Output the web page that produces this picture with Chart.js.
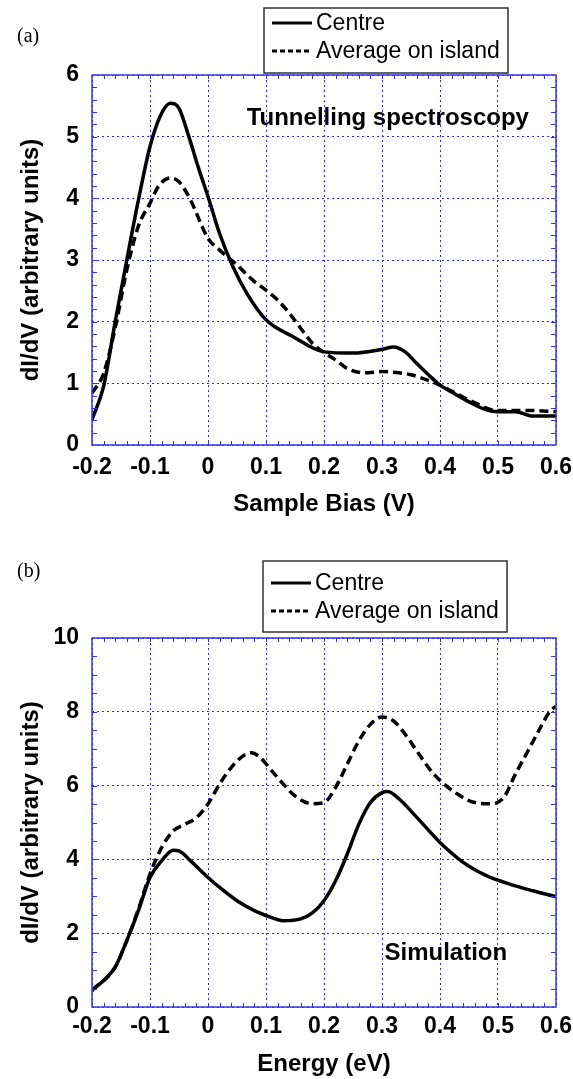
<!DOCTYPE html>
<html>
<head>
<meta charset="utf-8">
<script src="https://cdn.jsdelivr.net/npm/chart.js@4.4.1/dist/chart.umd.min.js"></script>
<style>
  body { margin: 0; background: #fff; }
  canvas { display: block; }
</style>
</head>
<body>
<canvas id="chartA" width="573" height="540"></canvas>
<canvas id="chartB" width="573" height="539"></canvas>
<script>
// (a) measured spectra
const aCentreBias = [-0.2, -0.18, -0.16, -0.14, -0.12, -0.1, -0.083, -0.065, -0.05, -0.033, -0.017, 0, 0.02, 0.043, 0.067, 0.1, 0.146, 0.2, 0.25, 0.3, 0.32, 0.34, 0.36, 0.38, 0.4, 0.42, 0.45, 0.48, 0.5, 0.53, 0.56, 0.6];
const aCentreVal  = [0.41, 0.95, 2.0, 3.0, 3.97, 4.84, 5.32, 5.54, 5.46, 5.0, 4.51, 4.03, 3.43, 2.89, 2.46, 2.03, 1.76, 1.51, 1.49, 1.55, 1.59, 1.51, 1.32, 1.14, 0.97, 0.86, 0.70, 0.57, 0.54, 0.54, 0.47, 0.47];
const aAverageBias = [-0.2, -0.18, -0.16, -0.14, -0.12, -0.1, -0.085, -0.065, -0.05, -0.03, -0.01, 0, 0.02, 0.05, 0.08, 0.1, 0.12, 0.14, 0.16, 0.18, 0.2, 0.22, 0.24, 0.27, 0.3, 0.33, 0.35, 0.37, 0.4, 0.45, 0.5, 0.55, 0.6];
const aAverageVal  = [0.84, 1.16, 1.9, 2.84, 3.55, 3.92, 4.2, 4.33, 4.27, 3.97, 3.54, 3.35, 3.16, 2.92, 2.65, 2.51, 2.35, 2.14, 1.89, 1.65, 1.5, 1.38, 1.24, 1.17, 1.19, 1.17, 1.14, 1.08, 0.97, 0.73, 0.56, 0.56, 0.54];

// (b) simulated spectra
const bCentreEnergy = [-0.2, -0.18, -0.16, -0.14, -0.12, -0.1, -0.08, -0.06, -0.05, -0.03, 0, 0.02, 0.05, 0.08, 0.1, 0.13, 0.16, 0.18, 0.2, 0.22, 0.24, 0.26, 0.28, 0.3, 0.31, 0.33, 0.36, 0.4, 0.44, 0.48, 0.52, 0.56, 0.6];
const bCentreVal    = [0.45, 0.72, 1.08, 1.80, 2.61, 3.51, 3.96, 4.25, 4.23, 3.96, 3.51, 3.24, 2.88, 2.61, 2.48, 2.34, 2.39, 2.55, 2.88, 3.42, 4.14, 4.95, 5.54, 5.81, 5.84, 5.63, 5.14, 4.46, 3.92, 3.56, 3.33, 3.15, 2.99];
const bAverageEnergy = [-0.2, -0.16, -0.14, -0.12, -0.1, -0.08, -0.06, -0.04, -0.02, 0, 0.02, 0.04, 0.06, 0.075, 0.09, 0.11, 0.13, 0.15, 0.18, 0.2, 0.22, 0.24, 0.26, 0.28, 0.3, 0.32, 0.34, 0.36, 0.38, 0.4, 0.43, 0.46, 0.49, 0.51, 0.53, 0.55, 0.57, 0.59, 0.6];
const bAverageVal    = [0.45, 1.08, 1.8, 2.65, 3.6, 4.32, 4.77, 4.95, 5.13, 5.5, 6.04, 6.49, 6.8, 6.89, 6.76, 6.40, 6.04, 5.72, 5.51, 5.54, 5.95, 6.58, 7.21, 7.66, 7.86, 7.75, 7.39, 6.94, 6.49, 6.14, 5.77, 5.54, 5.51, 5.68, 6.31, 6.89, 7.48, 8.02, 8.15];

const seriesNames = ["Centre", "Average on island"];
const xTickLabels = ["-0.2", "-0.1", "0", "0.1", "0.2", "0.3", "0.4", "0.5", "0.6"];

const sans = "'Liberation Sans', Arial, sans-serif";
const blue = "#3434e6";
const gridBlue = "#2b2bff";

const toPoints = (xs, ys) => xs.map((v, i) => ({x: v, y: ys[i]}));

// frame, inner minor ticks, caption, legend box and panel letter
const decoPlugin = {
  id: 'deco',
  afterDraw(chart, args, o) {
    const {ctx, chartArea: a, scales: {x, y}} = chart;
    ctx.save();
    ctx.strokeStyle = blue;
    ctx.lineWidth = 1;
    ctx.beginPath();
    const nx = Math.round((x.max - x.min) / o.minorX);
    for (let i = 1; i < nx; i++) {
      const px = Math.round(x.getPixelForValue(x.min + i * o.minorX)) + 0.5;
      ctx.moveTo(px, a.top); ctx.lineTo(px, a.top + 4);
      ctx.moveTo(px, a.bottom); ctx.lineTo(px, a.bottom - 4);
    }
    const ny = Math.round((y.max - y.min) / o.minorY);
    for (let i = 1; i < ny; i++) {
      const py = Math.round(y.getPixelForValue(y.min + i * o.minorY)) + 0.5;
      ctx.moveTo(a.left, py); ctx.lineTo(a.left + 5, py);
      ctx.moveTo(a.right, py); ctx.lineTo(a.right - 5, py);
    }
    ctx.stroke();
    ctx.lineWidth = 1.5;
    ctx.strokeRect(a.left, a.top, a.right - a.left, a.bottom - a.top);

    // caption inside plot
    ctx.fillStyle = '#000';
    ctx.font = "bold 24px " + sans;
    ctx.textAlign = 'center';
    ctx.textBaseline = 'middle';
    ctx.fillText(o.caption, x.getPixelForValue(o.captionAt[0]), y.getPixelForValue(o.captionAt[1]));

    // panel letter
    ctx.font = "20px 'Liberation Serif', 'Times New Roman', serif";
    ctx.textAlign = 'left';
    ctx.fillText(o.panel, 17, o.panelY);

    // legend
    const L = o.legend;
    ctx.strokeStyle = '#333';
    ctx.lineWidth = 1.5;
    ctx.strokeRect(L.x, L.y, L.w, L.h);
    ctx.font = "23px " + sans;
    chart.data.datasets.forEach((ds, i) => {
      const ly = L.y + L.rows[i];
      ctx.strokeStyle = '#000';
      ctx.lineWidth = 3;
      ctx.setLineDash(ds.borderDash && ds.borderDash.length ? [5, 3] : []);
      ctx.beginPath(); ctx.moveTo(L.x + 8, ly); ctx.lineTo(L.x + 48, ly); ctx.stroke();
      ctx.setLineDash([]);
      ctx.fillStyle = '#000';
      ctx.fillText(ds.label, L.x + 52, ly + 1);
    });
    ctx.restore();
  }
};

const makeChart = (id, cfg) => new Chart(document.getElementById(id), {
  type: 'line',
  data: {
    datasets: [
      {label: seriesNames[0], data: toPoints(cfg.cx, cfg.cy), borderColor: '#000', borderWidth: 3.5,
       pointRadius: 0, cubicInterpolationMode: 'monotone', fill: false},
      {label: seriesNames[1], data: toPoints(cfg.ax, cfg.ay), borderColor: '#000', borderWidth: 3.5,
       borderDash: [9, 5], pointRadius: 0, cubicInterpolationMode: 'monotone', fill: false}
    ]
  },
  options: {
    responsive: false,
    animation: false,
    layout: {padding: {top: cfg.top, right: 17, bottom: 0, left: 0}},
    plugins: {
      legend: {display: false},
      tooltip: {enabled: false},
      deco: cfg.deco
    },
    scales: {
      x: {
        type: 'linear', min: -0.2, max: 0.6,
        ticks: {stepSize: 0.1, padding: cfg.tickPad, maxRotation: 0, autoSkip: false, color: '#000',
                font: {family: sans, size: 23, weight: 'bold'},
                callback: (v, i) => xTickLabels[i]},
        grid: {color: gridBlue, lineWidth: 1, drawTicks: false},
        border: {display: false, dash: [2, 3]},
        title: {display: true, text: cfg.xTitle, color: '#000', font: {family: sans, size: 24, weight: 'bold'},
                padding: {top: 0, bottom: cfg.titlePad}},
        afterFit: s => { s.height = cfg.xHeight; s.paddingLeft = 0; s.paddingRight = 0; }
      },
      y: {
        min: 0, max: cfg.yMax,
        ticks: {stepSize: cfg.yStep, padding: 13, color: '#000', font: {family: sans, size: 23, weight: 'bold'}},
        grid: {color: gridBlue, lineWidth: 1, drawTicks: false},
        border: {display: false, dash: [2, 3]},
        title: {display: true, text: 'dI/dV (arbitrary units)', color: '#000', font: {family: sans, size: 24, weight: 'bold'},
                padding: {top: 17, bottom: 0}},
        afterFit: s => { s.width = 92; s.paddingTop = 0; s.paddingBottom = 0; }
      }
    }
  },
  plugins: [decoPlugin]
});

makeChart('chartA', {
  cx: aCentreBias, cy: aCentreVal, ax: aAverageBias, ay: aAverageVal,
  top: 75, xHeight: 95, tickPad: 9, titlePad: 21, yMax: 6, yStep: 1,
  xTitle: 'Sample Bias (V)',
  deco: {minorX: 0.02, minorY: 0.2, caption: 'Tunnelling spectroscopy', captionAt: [0.31, 5.3],
         panel: '(a)', panelY: 37, legend: {x: 264, y: 8, w: 244, h: 65, rows: [15, 43]}}
});

makeChart('chartB', {
  cx: bCentreEnergy, cy: bCentreVal, ax: bAverageEnergy, ay: bAverageVal,
  top: 98, xHeight: 72, tickPad: 6, titlePad: 0, yMax: 10, yStep: 2,
  xTitle: 'Energy (eV)',
  deco: {minorX: 0.02, minorY: 0.5, caption: 'Simulation', captionAt: [0.41, 1.44],
         panel: '(b)', panelY: 32, legend: {x: 263, y: 21, w: 244, h: 71, rows: [22, 50]}}
});
</script>
</body>
</html>
